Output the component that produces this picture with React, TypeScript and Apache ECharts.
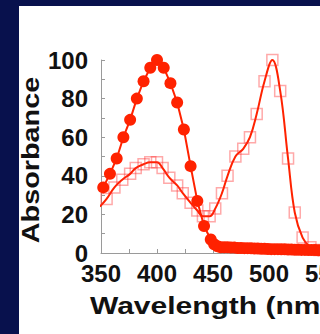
import React, { useEffect, useRef } from 'react';
import * as echarts from 'echarts';

// Filled circles (band A)
const circleNm = [352, 358, 364, 370, 376, 382, 388, 394, 400, 406, 412, 418, 424, 430, 436, 442, 448, 451, 454, 457, 460, 463, 466, 469, 472, 475, 478, 481, 484, 487, 490, 493, 496, 499, 502, 505, 508, 511, 514, 517, 520, 523, 526, 529, 532, 535, 538, 541, 544, 547, 550, 553];
const circleAbs = [34, 41, 49, 60, 69, 80, 89, 96, 100, 96, 88, 78, 64, 45, 27, 14, 7, 4.5, 3.5, 3, 3, 3, 2.8, 2.8, 2.6, 2.6, 2.5, 2.5, 2.4, 2.3, 2.3, 2.2, 2.2, 2.1, 2, 2, 2, 1.9, 1.9, 1.8, 1.8, 1.7, 1.7, 1.6, 1.6, 1.5, 1.5, 1.5, 1.4, 1.4, 1.4, 1.3];

// Open squares (band B)
const squareNm = [349, 355, 362, 369, 376, 381, 388, 394, 400, 405, 411, 418, 423, 430, 436, 441, 447, 452, 458, 463, 470, 477, 483, 489, 496, 503, 510, 517, 523, 530, 537, 545, 552];
const squareAbs = [24, 28, 34, 38, 41, 44, 46, 47, 47, 44, 39, 35, 31, 26, 22, 19, 19, 23, 31, 40, 50, 54, 60, 72, 89, 100, 84, 49, 21, 8, 3, 1.5, 1];

const xMin = 350;
const xMax = 600;
const xStep = 50;
const yMin = 0;
const yMax = 100;
const yStep = 20;

const xTitle = 'Wavelength (nm)';
const yTitle = 'Absorbance';

const RED = '#ff2200';
const FONT = '"Liberation Sans", Arial, Helvetica, sans-serif';

export default function App() {
  const ref = useRef<HTMLDivElement>(null);
  useEffect(() => {
    document.body.style.margin = '0';
    const chart = echarts.init(ref.current!, null, { renderer: 'svg' });
    const circles = circleNm.map((x, i) => [x, circleAbs[i]]);
    const squares = squareNm.map((x, i) => [x, squareAbs[i]]);
    chart.setOption({
      animation: false,
      backgroundColor: '#08114d',
      grid: { left: 101, top: 60, height: 193, width: 280, containLabel: false, outerBoundsMode: 'none' },
      graphic: [
        {
          type: 'rect',
          z: -10,
          silent: true,
          shape: { x: 19, y: 6, width: 301, height: 328 },
          style: { fill: '#ffffff' },
        },
        {
          type: 'text',
          x: 90,
          y: 306,
          scaleX: 1.25,
          style: {
            text: xTitle,
            fontSize: 24,
            fontWeight: 'bold',
            fontFamily: FONT,
            fill: '#111',
            align: 'left',
            verticalAlign: 'middle',
          },
        },
        {
          type: 'text',
          x: 31,
          y: 160,
          rotation: Math.PI / 2,
          scaleX: 1.2,
          style: {
            text: yTitle,
            fontSize: 24,
            fontWeight: 'bold',
            fontFamily: FONT,
            fill: '#111',
            align: 'center',
            verticalAlign: 'middle',
          },
        },
      ],
      xAxis: {
        type: 'value',
        min: xMin,
        max: xMax,
        interval: xStep,
        axisLine: { show: true, lineStyle: { color: '#9a9a9a', width: 1 } },
        axisTick: { show: true, inside: true, length: 4, lineStyle: { color: '#9a9a9a' } },
        minorTick: { show: true, splitNumber: 2, length: 4, lineStyle: { color: '#9a9a9a' } },
        splitLine: { show: false },
        axisLabel: {
          margin: 11,
          fontSize: 24,
          lineHeight: 18,
          fontWeight: 'bold',
          fontFamily: FONT,
          color: '#111',
          hideOverlap: false,
        },
      },
      yAxis: {
        type: 'value',
        min: yMin,
        max: yMax,
        interval: yStep,
        axisLine: { show: true, lineStyle: { color: '#9a9a9a', width: 1 } },
        axisTick: { show: true, inside: true, length: 4, lineStyle: { color: '#9a9a9a' } },
        minorTick: { show: true, splitNumber: 2, length: 4, lineStyle: { color: '#9a9a9a' } },
        splitLine: { show: false },
        axisLabel: {
          margin: 13,
          fontSize: 24,
          lineHeight: 18,
          fontWeight: 'bold',
          fontFamily: FONT,
          color: '#111',
        },
      },
      series: [
        {
          type: 'line',
          data: squares,
          smooth: 0.4,
          symbol: 'rect',
          symbolSize: 11,
          showAllSymbol: true,
          lineStyle: { color: RED, width: 2 },
          itemStyle: { color: 'rgba(255,255,255,0)', borderColor: 'rgba(255,40,40,0.4)', borderWidth: 1.5 },
          z: 2,
        },
        {
          type: 'line',
          data: circles,
          symbol: 'circle',
          symbolSize: 12,
          showAllSymbol: true,
          lineStyle: { color: RED, width: 2 },
          itemStyle: { color: RED, borderWidth: 0 },
          z: 3,
        },
      ],
    });
    return () => chart.dispose();
  }, []);
  return <div ref={ref} style={{ position: 'absolute', left: 0, top: 0, width: 320, height: 334 }} />;
}
